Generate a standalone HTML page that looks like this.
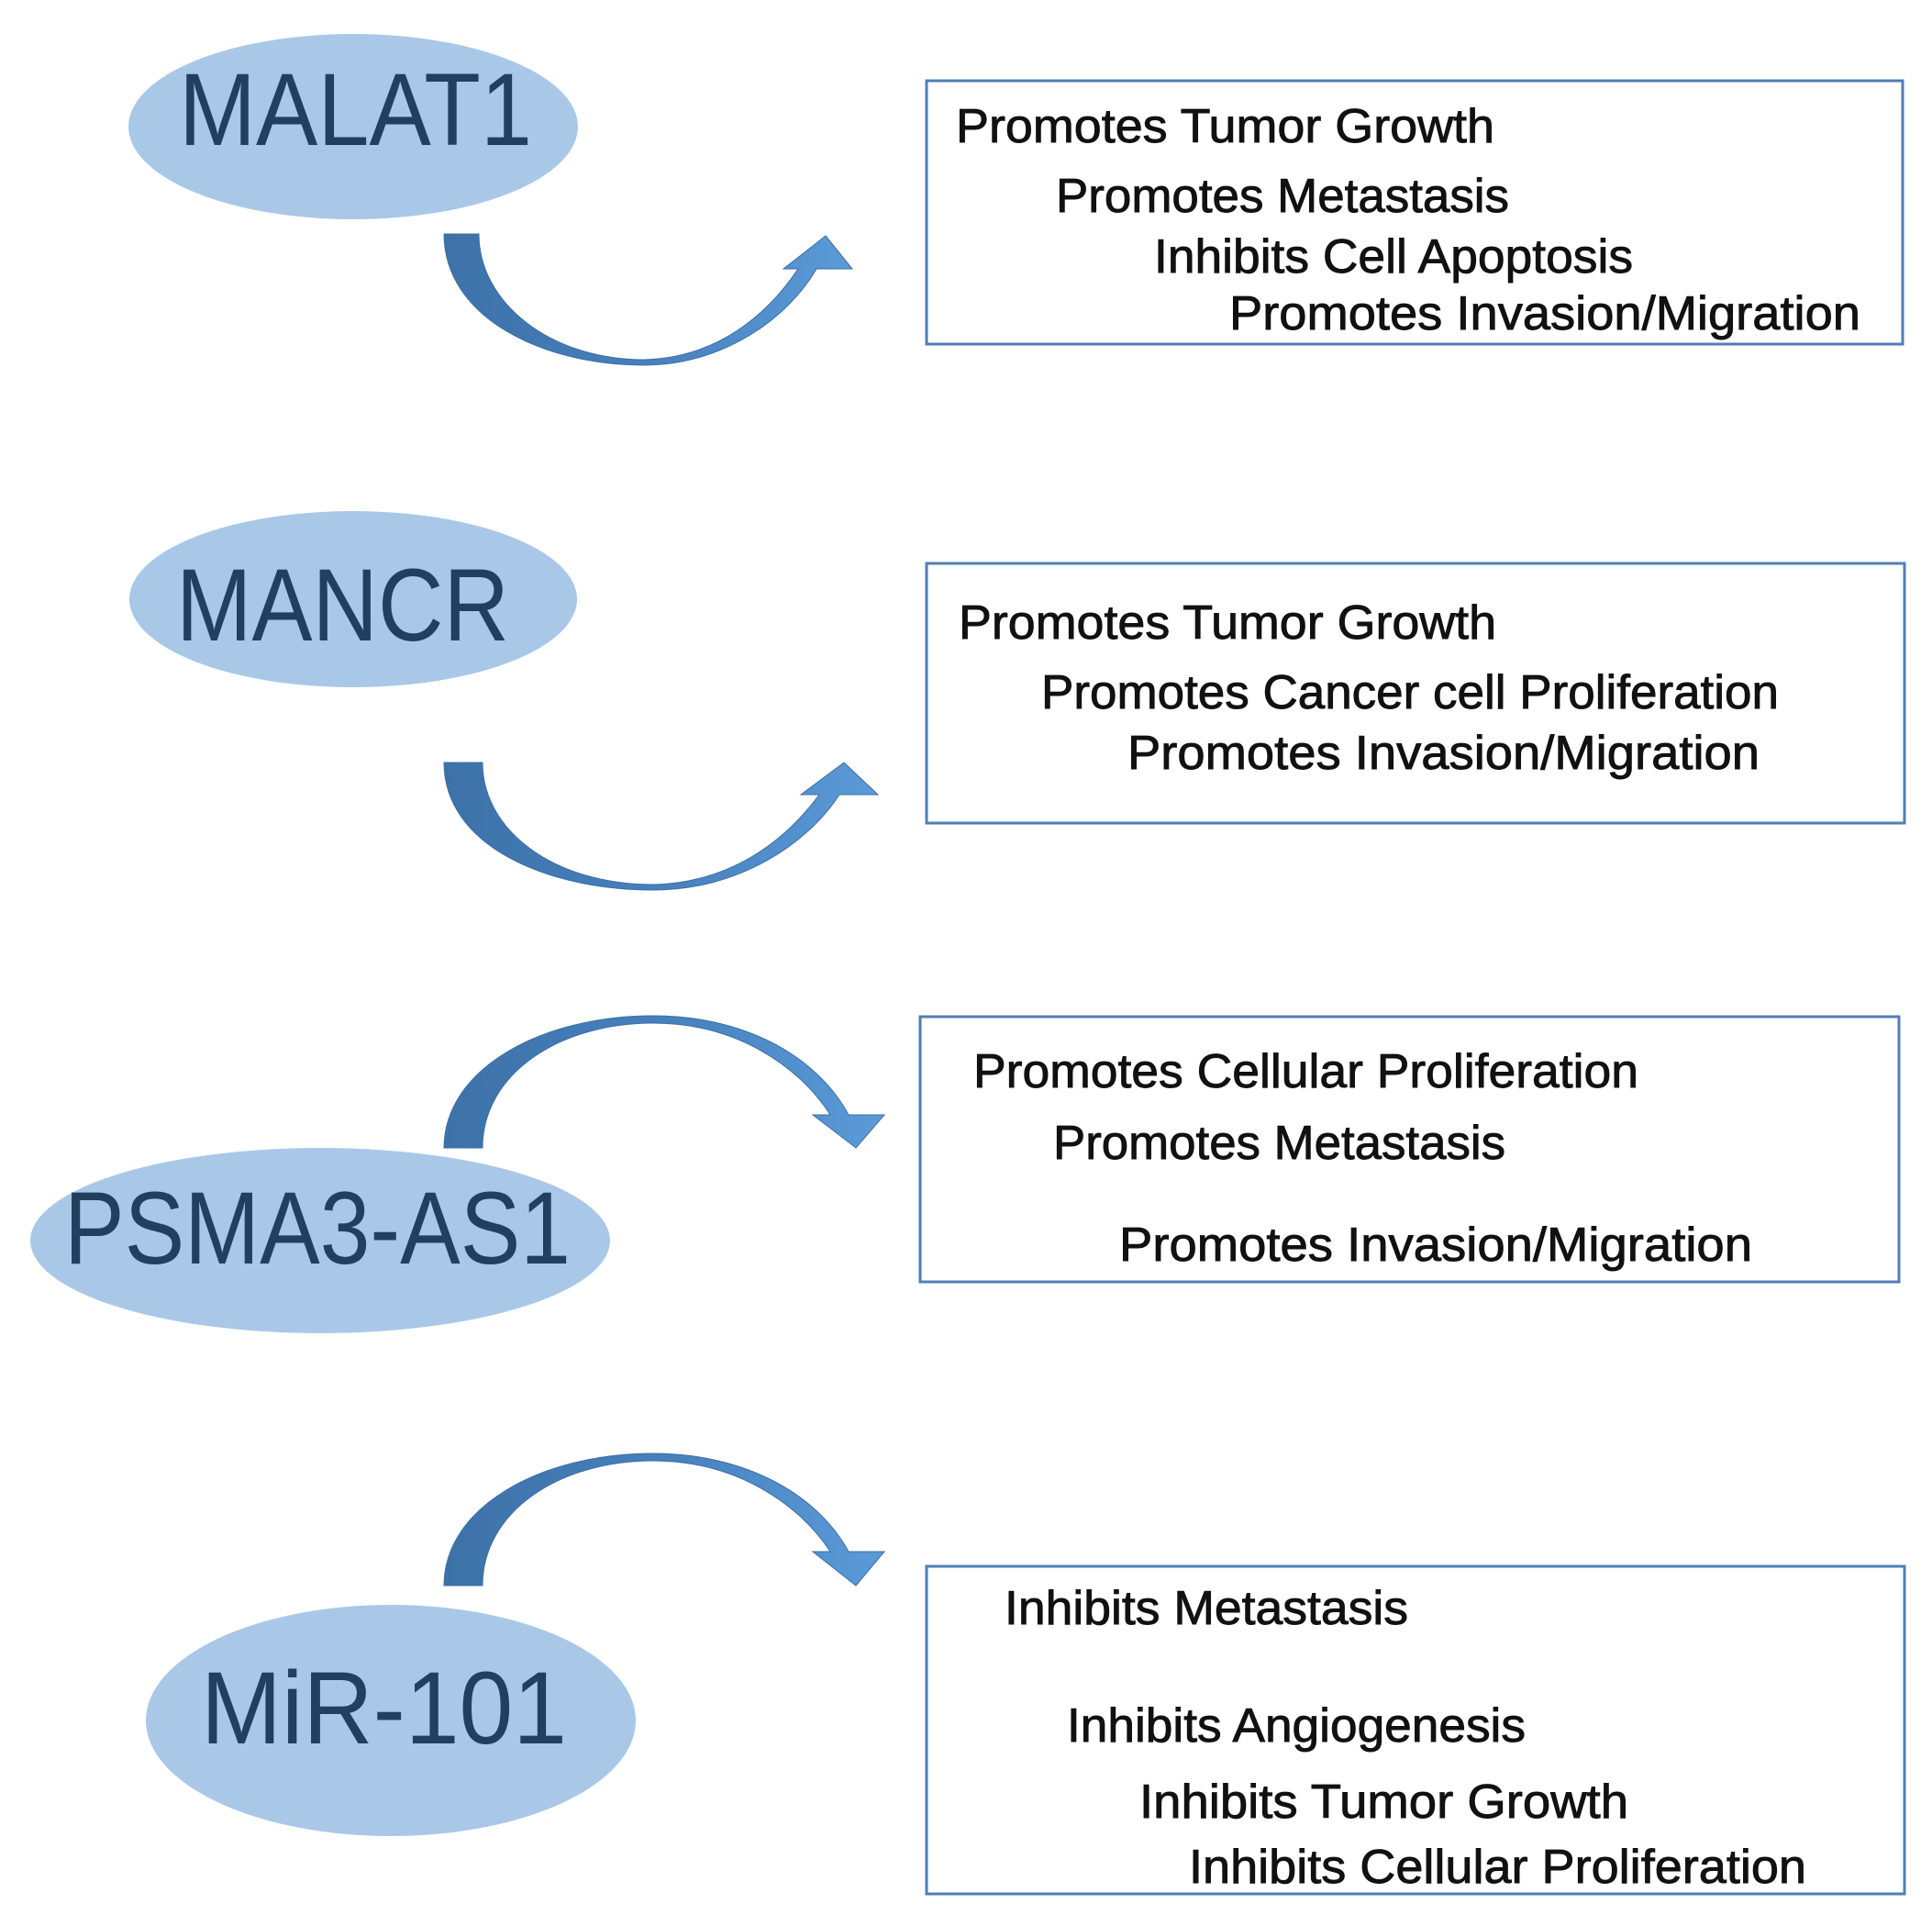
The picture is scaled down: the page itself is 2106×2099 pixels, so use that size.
<!DOCTYPE html>
<html><head><meta charset="utf-8"><style>
html,body{margin:0;padding:0;background:#fff;}
svg{display:block;}
.t{font-family:"Liberation Sans",sans-serif;font-size:52px;fill:#111;stroke:#111;stroke-width:0.9px;}
.e{font-family:"Liberation Sans",sans-serif;font-size:112px;fill:#213f5e;}
.b{fill:#fff;stroke:#4f7eb5;stroke-width:3;}
.o{fill:#a9c8e8;}
</style></head><body>
<svg width="2106" height="2099" viewBox="0 0 2106 2099" xmlns="http://www.w3.org/2000/svg">
<defs>
<linearGradient id="g" x1="0" y1="0" x2="1" y2="0">
<stop offset="0" stop-color="#3d72a8"/><stop offset="0.5" stop-color="#4680bd"/><stop offset="1" stop-color="#5b9bd8"/>
</linearGradient>
</defs>
<ellipse class="o" cx="385" cy="138" rx="245" ry="101"/>
<text class="e" x="195" y="158" textLength="385" lengthAdjust="spacingAndGlyphs">MALAT1</text>
<ellipse class="o" cx="385" cy="653" rx="244" ry="96"/>
<text class="e" x="192" y="698" textLength="363" lengthAdjust="spacingAndGlyphs">MANCR</text>
<ellipse class="o" cx="349" cy="1352" rx="316" ry="101"/>
<text class="e" x="70" y="1377" textLength="552" lengthAdjust="spacingAndGlyphs">PSMA3-AS1</text>
<ellipse class="o" cx="426" cy="1875" rx="267" ry="126"/>
<text class="e" x="219" y="1900" textLength="399" lengthAdjust="spacingAndGlyphs">MiR-101</text>

<path fill="url(#g)" stroke="#3d6fa3" stroke-width="1" d="M484,255 C484,345 590,398 702,398 C790,398 860,345 890,293 L929,293 L900,257 L854,293 L870,293 C835,345 780,390 702,392 C600,392 522,330 522,255 Z"/>
<path fill="url(#g)" stroke="#3d6fa3" stroke-width="1" d="M484,831 C484,921 595,970 712,970 C805,970 880,920 915,866 L957,866 L920,831 L873,866 L893,866 C855,918 795,962 712,964 C605,964 526,906 526,831 Z"/>
<path fill="url(#g)" stroke="#3d6fa3" stroke-width="1" d="M484,1251 C484,1165 590,1107 712,1107 C810,1107 890,1150 925,1215 L964,1215 L933,1251 L886,1215 L905,1215 C870,1160 800,1115 712,1115 C610,1115 526,1170 526,1251 Z"/>
<path fill="url(#g)" stroke="#3d6fa3" stroke-width="1" d="M484,1728 C484,1642 590,1584 712,1584 C810,1584 890,1627 925,1691 L964,1691 L933,1728 L886,1691 L905,1691 C870,1637 800,1592 712,1592 C610,1592 526,1647 526,1728 Z"/>

<rect class="b" x="1010" y="88" width="1064" height="287"/>
<text class="t" x="1042" y="155" textLength="587" lengthAdjust="spacingAndGlyphs">Promotes Tumor Growth</text>
<text class="t" x="1151" y="231" textLength="494" lengthAdjust="spacingAndGlyphs">Promotes Metastasis</text>
<text class="t" x="1258" y="297" textLength="522" lengthAdjust="spacingAndGlyphs">Inhibits Cell Apoptosis</text>
<text class="t" x="1340" y="359" textLength="688" lengthAdjust="spacingAndGlyphs">Promotes Invasion/Migration</text>

<rect class="b" x="1010" y="614" width="1066" height="283"/>
<text class="t" x="1045" y="696" textLength="586" lengthAdjust="spacingAndGlyphs">Promotes Tumor Growth</text>
<text class="t" x="1135" y="772" textLength="804" lengthAdjust="spacingAndGlyphs">Promotes Cancer cell Proliferation</text>
<text class="t" x="1229" y="838" textLength="689" lengthAdjust="spacingAndGlyphs">Promotes Invasion/Migration</text>

<rect class="b" x="1003" y="1108" width="1067" height="289"/>
<text class="t" x="1061" y="1185" textLength="725" lengthAdjust="spacingAndGlyphs">Promotes Cellular Proliferation</text>
<text class="t" x="1148" y="1263" textLength="493" lengthAdjust="spacingAndGlyphs">Promotes Metastasis</text>
<text class="t" x="1220" y="1374" textLength="690" lengthAdjust="spacingAndGlyphs">Promotes Invasion/Migration</text>

<rect class="b" x="1010" y="1707" width="1066" height="357"/>
<text class="t" x="1095" y="1770" textLength="440" lengthAdjust="spacingAndGlyphs">Inhibits Metastasis</text>
<text class="t" x="1163" y="1898" textLength="500" lengthAdjust="spacingAndGlyphs">Inhibits Angiogenesis</text>
<text class="t" x="1242" y="1981" textLength="533" lengthAdjust="spacingAndGlyphs">Inhibits Tumor Growth</text>
<text class="t" x="1296" y="2052" textLength="673" lengthAdjust="spacingAndGlyphs">Inhibits Cellular Proliferation</text>
</svg>
</body></html>
